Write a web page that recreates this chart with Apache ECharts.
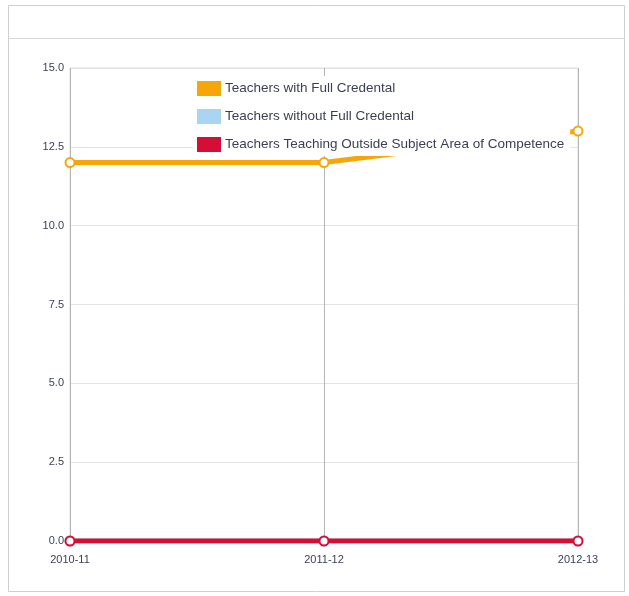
<!DOCTYPE html>
<html><head><meta charset="utf-8">
<script src="https://cdn.jsdelivr.net/npm/echarts@6/dist/echarts.min.js"></script>
<style>html,body{margin:0;padding:0;background:#fff}#c{width:629px;height:596px}</style>
</head><body><div id="c"></div>
<script>
const categories = ['2010-11', '2011-12', '2012-13'];
const fullCredential = [12, 12, 13];
const withoutCredential = [0, 0, 0];
const outsideSubject = [0, 0, 0];
const seriesNames = ['Teachers with Full Credental', 'Teachers without Full Credental', 'Teachers Teaching Outside Subject Area of Competence'];
const yTicks = { min: 0, max: 15, interval: 2.5 };

const chart = echarts.init(document.getElementById('c'));
const lineSeries = (name, data, color, z) => ({
  name, type: 'line', data, z,
  symbol: 'emptyCircle', symbolSize: 9, showSymbol: true,
  lineStyle: { color, width: 5 },
  itemStyle: { color, borderColor: color, borderWidth: 2 },
  animation: false
});
chart.setOption({
  animation: false,
  textStyle: { fontFamily: 'Liberation Sans' },
  graphic: [
    { type: 'rect', shape: { x: 8.5, y: 5.5, width: 616, height: 586 }, style: { fill: 'none', stroke: '#cfcfcf', lineWidth: 1 }, z: 0 },
    { type: 'line', shape: { x1: 8, y1: 38.5, x2: 625, y2: 38.5 }, style: { stroke: '#d6d6d6', lineWidth: 1 }, z: 0 }
  ],
  legend: {
    orient: 'vertical', left: 193, top: 76,
    itemWidth: 22, itemHeight: 13, itemGap: 13,
    backgroundColor: '#ffffff', padding: [5, 6, 4, 4],
    icon: 'rect',
    textStyle: { color: '#3b3f55', fontSize: 13.5, fontFamily: 'Liberation Sans' },
    data: [
      { name: seriesNames[0], itemStyle: { color: '#f5a70a' } },
      { name: seriesNames[1], itemStyle: { color: '#a9d5f2' } },
      { name: seriesNames[2], itemStyle: { color: '#d60d35' } }
    ]
  },
  grid: { left: 70, right: 51, top: 68, bottom: 55, show: true, borderColor: '#dcdcdc', borderWidth: 1 },
  xAxis: {
    type: 'category', data: categories, boundaryGap: false,
    axisLine: { show: false }, axisTick: { show: false },
    axisLabel: { color: '#3b3f55', fontSize: 11, margin: 13 },
    splitLine: { show: true, lineStyle: { color: '#b5b5b5', width: 1 } }
  },
  yAxis: {
    type: 'value', min: yTicks.min, max: yTicks.max, interval: yTicks.interval,
    axisLine: { show: false }, axisTick: { show: false },
    axisLabel: { color: '#3b3f55', fontSize: 11, margin: 6, formatter: v => v.toFixed(1) },
    splitLine: { lineStyle: { color: '#e3e3e3' } }
  },
  series: [
    lineSeries(seriesNames[0], fullCredential, '#f5a70a', 3),
    lineSeries(seriesNames[1], withoutCredential, '#a9d5f2', 2),
    lineSeries(seriesNames[2], outsideSubject, '#d60d35', 3)
  ]
});
</script></body></html>
